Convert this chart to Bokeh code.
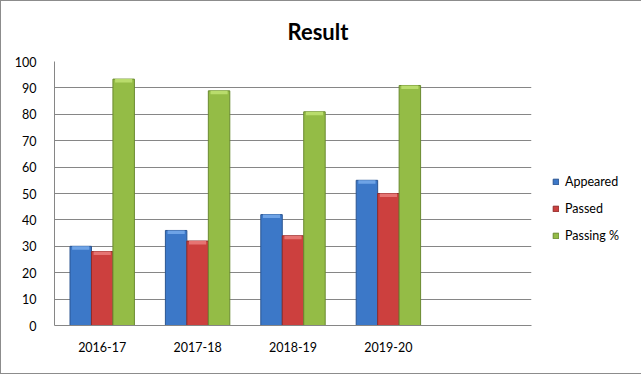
from bokeh.plotting import figure
from bokeh.models import (ColumnDataSource, FactorRange, Range1d, Legend, LegendItem,
                          Title, FixedTicker)
from bokeh.transform import dodge
from bokeh.embed import file_html
from bokeh.resources import INLINE

categories = ["2016-17", "2017-18", "2018-19", "2019-20"]
appeared = [30, 36, 42, 55]
passed = [28, 32, 34, 50]
passing_pct = [93.33, 88.89, 80.95, 90.91]
series_names = ["Appeared", "Passed", "Passing %"]
y_ticks = [0, 10, 20, 30, 40, 50, 60, 70, 80, 90, 100]

FONT = "Lato"
CAP = 1.3  # bevel depth in data units
source = ColumnDataSource(dict(cat=categories, appeared=appeared, passed=passed,
                               pct=passing_pct,
                               appeared_cap=[v - CAP for v in appeared],
                               passed_cap=[v - CAP for v in passed],
                               pct_cap=[v - CAP for v in passing_pct]))

p = figure(x_range=FactorRange(*(categories + [" "]), range_padding=0),
           y_range=Range1d(0, 100),
           frame_width=477, frame_height=264,
           min_border_left=53, min_border_right=106, min_border_top=60, min_border_bottom=48,
           output_backend="svg", toolbar_location=None)
p.styles = {"border": "1px solid #8c8c8c", "box-sizing": "border-box"}

fills = ["#3c78c8", "#cc403e", "#94bc46"]
caps = ["#6ea3e6", "#e67472", "#b9dc6c"]
lines = ["#2b5591", "#8f2b2a", "#6a8a30"]
cols = ["appeared", "passed", "pct"]
offsets = [-0.225, 0.0, 0.225]
renderers = []
for col, off, fc, cc, lc in zip(cols, offsets, fills, caps, lines):
    r = p.vbar(x=dodge("cat", off, range=p.x_range), top=col, width=0.225, bottom=0,
               source=source, fill_color=fc, line_color=lc, line_width=1)
    p.vbar(x=dodge("cat", off, range=p.x_range), top=col, bottom=col + "_cap", width=0.18,
           source=source, fill_color=cc, line_color=None)
    renderers.append(r)

p.xgrid.grid_line_color = None
p.ygrid.grid_line_color = "#868686"
p.ygrid.grid_line_width = 1
p.outline_line_color = None

p.yaxis.ticker = FixedTicker(ticks=y_ticks)
p.yaxis.axis_line_color = "#868686"
p.yaxis.major_tick_line_color = None
p.yaxis.minor_tick_line_color = None
p.yaxis.major_label_standoff = 12
p.yaxis.major_label_text_font = FONT
p.yaxis.major_label_text_font_size = "12.5px"
p.yaxis.major_label_text_color = "#000000"

p.xaxis.axis_line_color = "#868686"
p.xaxis.major_tick_line_color = None
p.xaxis.minor_tick_line_color = None
p.xaxis.major_label_standoff = 8
p.xaxis.major_label_text_font = FONT
p.xaxis.major_label_text_font_size = "12.5px"
p.xaxis.major_label_text_color = "#000000"

p.add_layout(Title(text="Result", align="left", offset=233, standoff=30,
                   vertical_align="top",
                   text_font=FONT, text_font_style="bold", text_font_size="22px",
                   text_color="#000000"), "above")

legend = Legend(items=[LegendItem(label=n, renderers=[r]) for n, r in zip(series_names, renderers)],
                location=(21, 80), orientation="vertical", margin=0, padding=0,
                spacing=7, label_height=20, glyph_width=7, glyph_height=7,
                label_standoff=6, border_line_color=None, background_fill_alpha=0,
                label_text_font=FONT, label_text_font_size="12.5px", label_text_color="#000000")
p.add_layout(legend, "right")

open("out.html", "w").write(file_html(p, INLINE))
